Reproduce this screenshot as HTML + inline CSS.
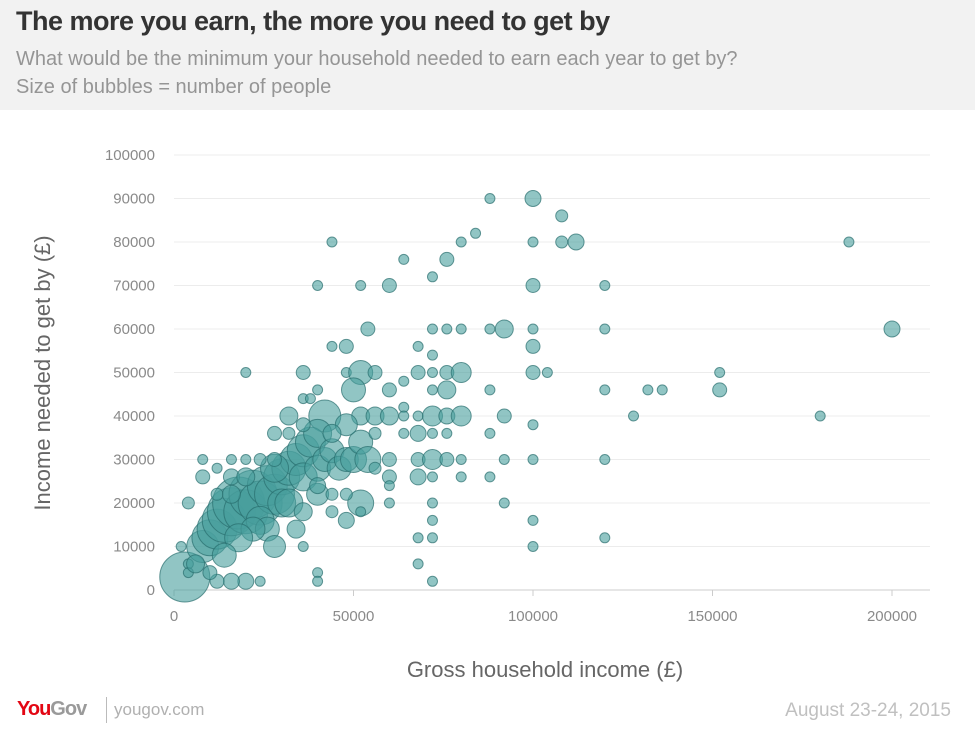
<!DOCTYPE html>
<html><head><meta charset="utf-8"><style>
body{margin:0;width:975px;height:738px;background:#fff;font-family:"Liberation Sans",sans-serif;overflow:hidden;position:relative}
#hdr{position:absolute;left:0;top:0;width:975px;height:110px;background:#f2f2f2}
#title{position:absolute;left:16px;top:6px;font-size:27px;font-weight:bold;color:#333;letter-spacing:-0.5px}
.sub{position:absolute;left:16px;font-size:20px;color:#959595}
#foot-logo{position:absolute;left:17px;top:698px;font-size:20px;font-weight:bold;letter-spacing:-1px}
#foot-url{position:absolute;left:114px;top:700px;font-size:17px;color:#b0b0b0}
#foot-date{position:absolute;right:24px;top:700px;font-size:19px;color:#c0c0c0}
</style></head><body>
<div id="hdr">
<div id="title">The more you earn, the more you need to get by</div>
<div class="sub" style="top:48px">What would be the minimum your household needed to earn each year to get by?</div>
<div class="sub" style="top:76px">Size of bubbles = number of people</div>
</div>
<svg id="chart" width="975" height="738" style="position:absolute;left:0;top:0"></svg>
<div id="foot-logo"><span style="color:#e30613">You</span><span style="color:#9a9a9a">Gov</span></div>
<div style="position:absolute;left:106px;top:697px;width:1px;height:26px;background:#bbb"></div>
<div id="foot-url">yougov.com</div>
<div id="foot-date">August 23-24, 2015</div>
<script>
const xTicks=[0,50000,100000,150000,200000];
const yTicks=[0,10000,20000,30000,40000,50000,60000,70000,80000,90000,100000];
// income (k), needed (k), bubble radius
const incomes=[88,100,108,44,80,84,100,108,112,188,64,76,72,40,52,60,100,120,200,54,72,76,80,88,92,100,120,68,100,44,48,72,20,36,48,52,56,68,72,76,80,100,104,152,64,40,50,60,72,76,88,120,132,136,152,64,36,42,52,56,60,64,68,72,76,80,92,128,180,100,32,64,68,72,76,88,28,68,72,76,80,92,100,120,60,68,72,80,88,60,60,52,60,72,92,48,52,72,100,68,72,100,120,36,68,40,40,72,20,16,12,24,3,8,8,4,2,4,4,8,10,12,14,16,18,20,22,24,26,28,30,32,34,36,38,40,28,30,24,26,32,36,40,42,44,46,48,50,52,54,48,44,40,36,34,28,16,12,12,16,20,24,28,32,36,38,40,44,48,56,56,44,20,16,22,18,14,10,6];
const needed=[90,90,86,80,80,82,80,80,80,80,76,76,72,70,70,70,70,70,60,60,60,60,60,60,60,60,60,56,56,56,56,54,50,50,50,50,50,50,50,50,50,50,50,50,48,46,46,46,46,46,46,46,46,46,46,42,44,40,40,40,40,40,40,40,40,40,40,40,40,38,40,36,36,36,36,36,36,30,30,30,30,30,30,30,30,26,26,26,26,26,24,20,20,20,20,16,18,16,16,12,12,10,12,10,6,4,2,2,2,2,2,2,3,30,26,20,10,6,4,10,12,14,16,18,20,18,22,20,24,22,26,28,30,32,34,36,28,20,16,14,20,26,28,30,32,28,30,30,34,30,38,36,22,18,14,10,26,22,28,30,30,30,30,36,38,44,24,22,22,36,28,18,26,22,14,12,8,4,6];
const radii=[5,8,6,5,5,5,5,6,8,5,5,7,5,5,5,7,7,5,8,7,5,5,5,5,9,5,5,5,7,5,7,5,5,7,5,12,7,7,5,7,10,7,5,5,5,5,12,7,5,9,5,5,5,5,7,5,5,16,9,9,9,5,5,10,8,10,7,5,5,5,9,5,8,5,5,5,7,7,10,7,5,5,5,5,7,8,5,5,5,7,5,13,5,5,5,8,5,5,5,5,5,5,5,5,5,5,5,5,8,8,7,5,25,5,7,6,5,5,5,16,18,20,22,24,26,22,24,22,20,20,18,17,16,16,15,14,14,14,14,12,14,14,13,12,12,12,12,13,12,13,11,9,11,9,9,11,8,6,5,5,5,6,7,6,7,5,8,6,6,6,6,6,9,9,12,14,12,7,9];
const svg=document.getElementById('chart');const NS='http://www.w3.org/2000/svg';
const X0=174,X1=892,Y0=590,Y1=155;
const sx=v=>X0+(v-0)/(200000)*(X1-X0);
const sy=v=>Y0-(v)/(100000)*(Y0-Y1);
function mk(t,a){const e=document.createElementNS(NS,t);for(const k in a)e.setAttribute(k,a[k]);svg.appendChild(e);return e;}
yTicks.forEach(v=>{
 const g=mk('line',{x1:X0,x2:930,y1:sy(v),y2:sy(v),stroke:v===0?'#ccc':'#ececec','stroke-width':1});
 
 
 const t=mk('text',{x:155,y:sy(v)+5,'text-anchor':'end','font-size':15,fill:'#8a8a8a','font-family':'Liberation Sans'});
 t.textContent=v;
 
 
});
xTicks.forEach(v=>{
 const l=mk('line',{x1:sx(v),x2:sx(v),y1:Y0,y2:Y0+6,stroke:'#ccc'});
 
 
 const t=mk('text',{x:sx(v),y:621,'text-anchor':'middle','font-size':15,fill:'#8a8a8a','font-family':'Liberation Sans'});
 t.textContent=v;
 
 
});
incomes.forEach((v,i)=>{
 const c=mk('circle',{cx:sx(v*1000),cy:sy(needed[i]*1000),r:radii[i],fill:'rgba(72,158,156,0.6)',stroke:'rgba(40,110,110,0.7)','stroke-width':1});
 
 
});
const xt=mk('text',{x:545,y:677,'text-anchor':'middle','font-size':22,fill:'#666','font-family':'Liberation Sans'});
xt.textContent='Gross household income (£)';


const yt=mk('text',{x:0,y:0,'text-anchor':'middle','font-size':22,fill:'#666','font-family':'Liberation Sans',transform:'translate(50,373) rotate(-90)'});
yt.textContent='Income needed to get by (£)';


</script>
</body></html>
